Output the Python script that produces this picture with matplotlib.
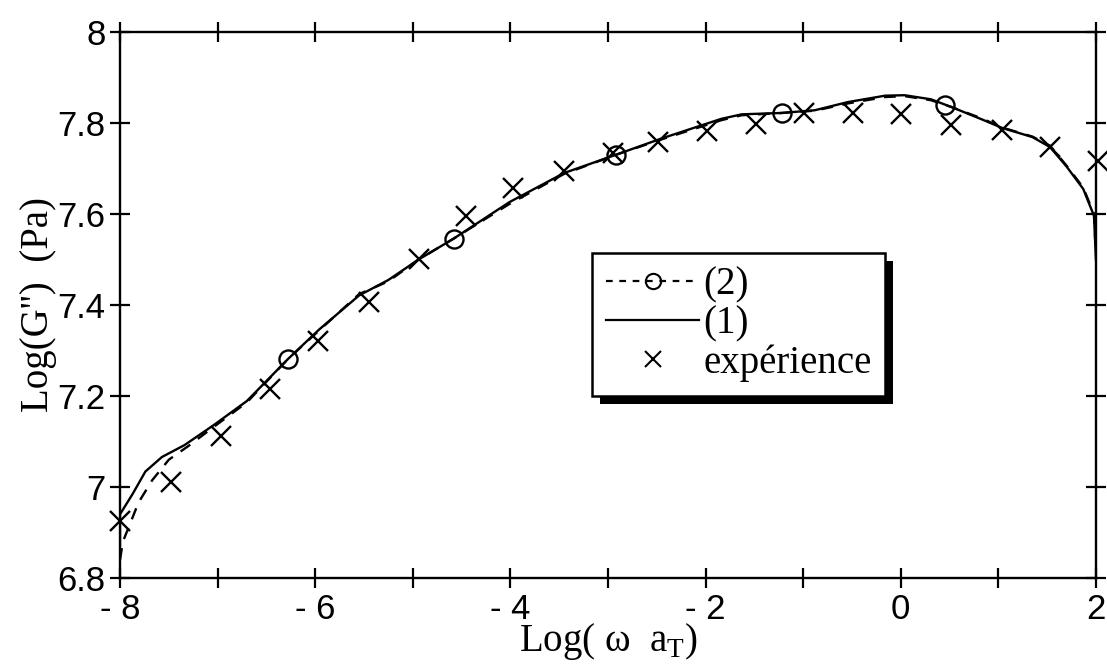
import numpy as np
import matplotlib.pyplot as plt
from matplotlib.lines import Line2D
from matplotlib.patches import Rectangle
from matplotlib.transforms import IdentityTransform
from matplotlib.ticker import MultipleLocator, FuncFormatter

# experiment (x markers)
x_exp = [-8.0, -7.48, -6.96, -6.46, -5.97, -5.45, -4.94, -4.45, -3.97, -3.45, -2.95,
         -2.49, -1.99, -1.48, -0.99, -0.49, 0.0, 0.52, 1.04, 1.53, 2.02]
y_exp = [6.925, 7.012, 7.112, 7.216, 7.320, 7.406, 7.501, 7.595, 7.657, 7.695, 7.735,
         7.758, 7.783, 7.797, 7.823, 7.821, 7.819, 7.795, 7.785, 7.747, 7.717]

# model (1), solid
x_m1 = [-8.0, -8.0, -7.87, -7.74, -7.57, -7.34, -7.04, -6.70, -6.28, -5.96, -5.55, -5.25,
        -4.94, -4.58, -4.01, -3.45, -2.92, -2.45, -1.84, -1.63, -1.22, -0.88, -0.54, -0.16,
        0.04, 0.31, 0.52, 0.83, 1.04, 1.35, 1.53, 1.70, 1.87, 1.98, 2.0]
y_m1 = [6.87, 6.94, 6.985, 7.034, 7.066, 7.092, 7.136, 7.189, 7.281, 7.346, 7.421, 7.455,
        7.50, 7.546, 7.626, 7.69, 7.73, 7.766, 7.809, 7.819, 7.822, 7.828, 7.846, 7.860,
        7.861, 7.852, 7.835, 7.808, 7.789, 7.769, 7.747, 7.704, 7.655, 7.596, 7.50]

# model (2), dashed
x_m2 = [-8.0, -7.97, -7.81, -7.67, -7.50, -7.30, -7.04, -6.70, -6.28, -5.96, -5.55, -5.25,
        -4.94, -4.58, -4.01, -3.45, -2.92, -2.45, -1.84, -1.63, -1.22, -0.88, -0.54, -0.16,
        0.04, 0.31, 0.52, 0.83, 1.04, 1.35, 1.53, 1.70, 1.87, 1.98, 2.0]
y_m2 = [6.84, 6.88, 6.966, 7.015, 7.06, 7.09, 7.132, 7.186, 7.281, 7.344, 7.424, 7.452,
        7.50, 7.546, 7.622, 7.688, 7.73, 7.764, 7.806, 7.817, 7.822, 7.827, 7.843, 7.857,
        7.859, 7.85, 7.835, 7.81, 7.79, 7.77, 7.75, 7.706, 7.658, 7.6, 7.51]
# circle markers on (2)
x_circ = [-6.28, -4.58, -2.92, -1.22, 0.45]
y_circ = [7.281, 7.546, 7.73, 7.822, 7.84]

fig = plt.figure(figsize=(11.07, 6.66), dpi=100)
ax = fig.add_axes([0.1084, 0.1321, 0.8816, 0.8199])

ax.plot(x_m1, y_m1, color='black', lw=1.7, zorder=2)
ax.plot(x_m2, y_m2, color='black', lw=1.7, ls=(0, (5, 4)), zorder=2)
ax.plot(x_circ, y_circ, ls='none', marker='o', ms=13, mfc='none', mec='black', mew=1.7, zorder=3)
ax.plot(x_exp, y_exp, ls='none', marker='x', ms=14, mec='black', mew=1.7, zorder=3, clip_on=False)

ax.set_xlim(-8, 2)
ax.set_ylim(6.8, 8)

ax.xaxis.set_major_locator(MultipleLocator(2))
ax.xaxis.set_minor_locator(MultipleLocator(1))
ax.yaxis.set_major_locator(MultipleLocator(0.2))
ax.xaxis.set_major_formatter(FuncFormatter(lambda v, p: f"- {abs(int(round(v)))}" if v < 0 else f"{int(round(v))}"))
ax.yaxis.set_major_formatter(FuncFormatter(lambda v, p: f"{v:g}"))

ax.tick_params(which='both', direction='inout', length=15, width=1.6,
               top=True, right=True, labeltop=False, labelright=False)
ax.tick_params(axis='x', which='major', labelsize=25, pad=3)
ax.tick_params(axis='y', which='major', labelsize=25, pad=3)
for lab in ax.get_xticklabels() + ax.get_yticklabels():
    lab.set_fontfamily('Liberation Sans')
for s in ax.spines.values():
    s.set_linewidth(1.7)

ax.set_xlabel("Log( ω  a$_{\\mathregular{T}}$)", fontfamily='Liberation Serif', fontsize=28, labelpad=-3)
ax.set_ylabel("Log(G'')  (Pa)", fontfamily='Liberation Serif', fontsize=28, labelpad=0)

handles = [Line2D([], [], color='black', lw=1.6, ls=(0, (3, 3)), marker='o', ms=11,
                  mfc='none', mec='black', mew=1.5),
           Line2D([], [], color='black', lw=1.6),
           Line2D([], [], ls='none', marker='x', color='black', ms=11, mew=1.5)]
leg = ax.legend(handles, ['(2)', '(1)', 'expérience'], loc='upper left',
                bbox_to_anchor=(0.535, 0.620), bbox_transform=fig.transFigure,
                fancybox=False, edgecolor='black', framealpha=1, numpoints=1,
                prop={'family': 'Liberation Serif', 'size': 28},
                handlelength=2.4, handletextpad=0.1, labelspacing=0.05,
                borderpad=0.35, borderaxespad=0)
leg.get_frame().set_linewidth(1.8)

fig.canvas.draw()
bb = leg.get_window_extent()
ax.add_patch(Rectangle((bb.x0 + 8, bb.y0 - 8), bb.width, bb.height, transform=IdentityTransform(),
                       facecolor='black', edgecolor='none', zorder=4.9, clip_on=False))

fig.savefig('out.png', dpi=100)
